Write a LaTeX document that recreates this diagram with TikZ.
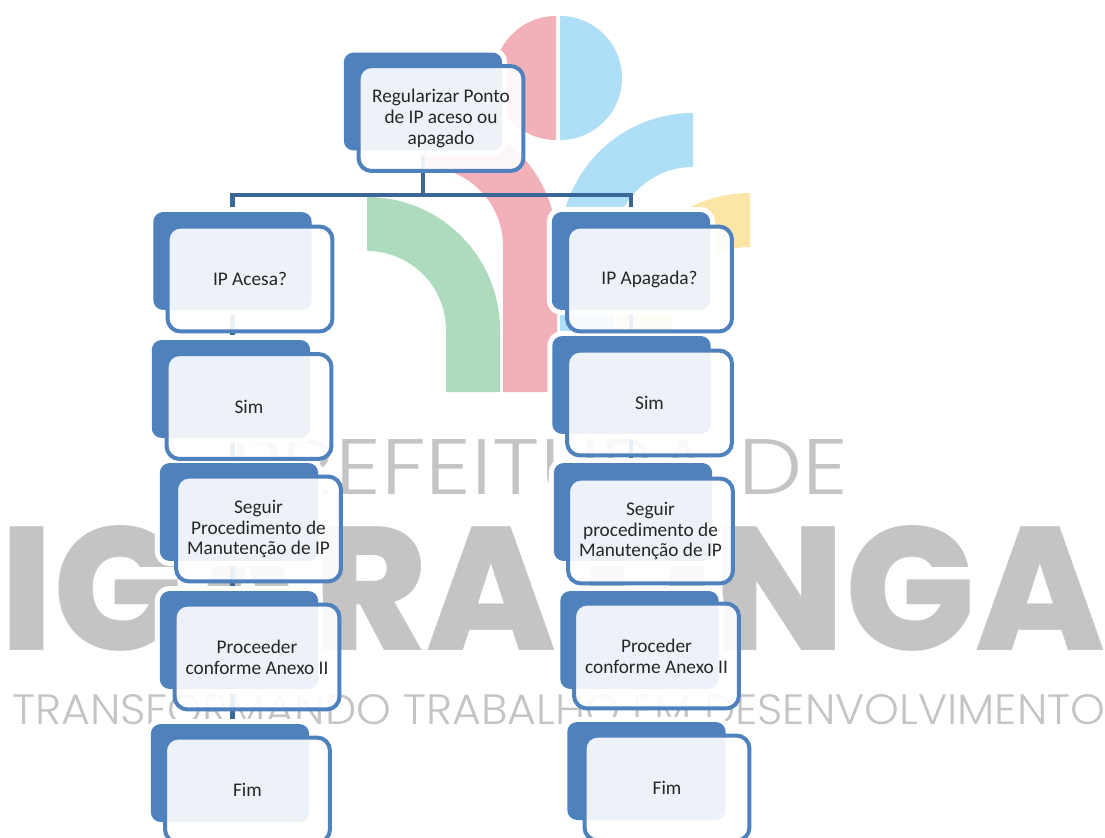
\documentclass[tikz,border=0pt]{standalone}
\usepackage{fontspec}
\usetikzlibrary{backgrounds}
\setmainfont{Carlito}
\newfontfamily\markfont{Poppins ExtraBold}
\newfontfamily\marklight{Poppins Light}

\definecolor{boxblue}{HTML}{4F81BD}
\definecolor{linkblue}{HTML}{3B6798}
\definecolor{markgray}{HTML}{C4C4C4}
\definecolor{logopink}{HTML}{F2B0B9}
\definecolor{logoblue}{HTML}{AEDFF7}
\definecolor{logogreen}{HTML}{AEDBBE}
\definecolor{logoyellow}{HTML}{FBE6A8}

\begin{document}
\begin{tikzpicture}[x=0.02cm,y=-0.02cm,
    backstyle/.style={fill=boxblue,rounded corners=0.2cm,
      minimum width=3.17cm,minimum height=1.96cm,
      preaction={draw=white,fill=none,line width=0.2cm}},
    frontstyle/.style={draw=boxblue,line width=0.08cm,fill=white,fill opacity=0.9,text opacity=1,
      rounded corners=0.26cm,minimum width=3.3cm,minimum height=2.1cm,align=center,
      text=black!85,font=\fontsize{11}{11.8}\selectfont},
    linkstyle/.style={draw=linkblue,line width=0.09cm},
    markstyle/.style={text=markgray,inner sep=0pt}]

    \useasboundingbox (0,0) rectangle (1105,838);

    \newcommand*{\ringr}{133}%
    \newcommand*{\ringi}{79}%

    % logo and the words behind it all
    \begin{scope}[on background layer]
    \fill [logopink] (556,16) arc (-90:-270:62) -- cycle;
    \fill [logoblue] (560,16) arc (-90:90:62) -- cycle;
    \fill [logoblue] (693,113) arc (-90:-180:\ringr) -- (560,392) -- (614,392) -- (614,246) arc (-180:-90:\ringi) -- cycle;
    \fill [logopink] (424,113) arc (-90:0:\ringr) -- (557,392) -- (503,392) -- (503,246) arc (0:-90:\ringi) -- cycle;
    \fill [logogreen] (367,197) arc (-90:0:\ringr) -- (500,392) -- (446,392) -- (446,330) arc (0:-90:\ringi) -- cycle;
    \fill [logoyellow] (750,193) arc (-90:-180:\ringr) -- (617,392) -- (671,392) -- (671,326) arc (-180:-90:\ringi) -- cycle;

    \node [markstyle,anchor=south west,font=\marklight] (markTop) at (230,495)
      {\resizebox{12.36cm}{1.1cm}{PREFEITURA DE}};
    \node [markstyle,anchor=south west,font=\markfont] (markName) at (0,652)
      {\resizebox{22.1cm}{2.5cm}{IGARATINGA}};
    \node [markstyle,anchor=south west,font=\marklight] (markLine) at (12,725)
      {\resizebox{21.86cm}{0.6cm}{TRANSFORMANDO TRABALHO EM DESENVOLVIMENTO}};
    \end{scope}

    \foreach \name/\x/\y in {Top/423/101.5,
        Acesa/232.5/261,SimE/231/389,SegE/239/512,ProE/239/640,FimE/230/773,
        Apagada/631/261,SimD/631.5/385,SegD/633/512,ProD/639.5/640,FimD/646.5/771}
       {\node [backstyle] (b\name) at (\x,\y) {};}

    \foreach \name/\x/\y/\txt in {Top/441/118.5/{Regularizar Ponto\\de IP aceso ou\\apagado},
        Acesa/250/279/{IP Acesa?},
        SimE/249/406.5/{Sim},
        SegE/258.5/529/{Seguir\\Procedimento de\\Manutenção de IP},
        ProE/257/657/{Proceeder\\conforme Anexo II},
        FimE/247.5/790/{Fim},
        Apagada/649.5/279/{IP Apagada?},
        SimD/649.5/403/{Sim},
        SegD/650.5/531/{Seguir\\procedimento de\\Manutenção de IP},
        ProD/656.5/656/{Proceder\\conforme Anexo II},
        FimD/667/788/{Fim}}
       {\node [frontstyle] (f\name) at (\x,\y) {\txt};}

    % links lie over the logo, under the boxes
    \begin{scope}[on background layer]
    \coordinate (trunk) at (423,195);
    \draw [linkstyle] (bTop.south) -- (trunk) -| (bAcesa.north);
    \draw [linkstyle] (trunk) -| (bApagada.north);
    \foreach \up/\down in {Acesa/SimE,SimE/SegE,SegE/ProE,ProE/FimE}
       {\draw [linkstyle] (b\up.south -| bAcesa) -- (b\down.north -| bAcesa);}
    \foreach \up/\down in {Apagada/SimD,SimD/SegD}
       {\draw [linkstyle] (b\up.south -| bApagada) -- (b\down.north -| bApagada);}
    \end{scope}

\end{tikzpicture}
\end{document}
